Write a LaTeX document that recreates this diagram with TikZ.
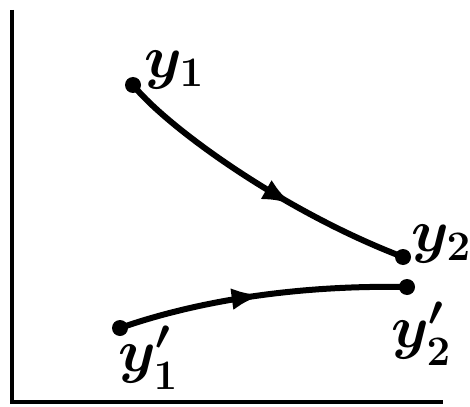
\RequirePackage{fix-cm}
\documentclass[tikz,border=0pt]{standalone}
\usepackage{amsmath}
\usepackage{tikz}
\usetikzlibrary{arrows.meta,decorations.markings}

\begin{document}
\begin{tikzpicture}[
  x=1pt, y=-1pt,
  state/.style={circle, fill, inner sep=0pt, minimum size=16pt},
  axis/.style={line width=4pt},
  traj/.style={line width=6pt, line cap=round},
  tag/.style={font=\fontsize{60}{60}\selectfont\boldmath, inner sep=0pt},
  midarrow/.style={postaction={decorate, decoration={markings,
      mark=at position #1 with {\arrow{Latex[length=30pt,width=22pt]}}}}},
]
\useasboundingbox (0,0) rectangle (470,406);

% axes
\coordinate (ytop) at (12,10);
\coordinate (origin) at (12,402);
\coordinate (xend) at (443,402);
\draw[axis] (ytop) -- (origin) -- (xend);

% end points
\node[state] (y1) at (133,85) {};
\node[state] (y2) at (403,257) {};
\node[state] (y1p) at (120,328) {};
\node[state] (y2p) at (407,287) {};

\node[tag] (y1lab) at (174,70) {$y_1$};
\node[tag] (y2lab) at (441,244) {$y_2$};
\node[tag] (y1plab) at (148,358) {$y_1'$};
\node[tag] (y2plab) at (421,334) {$y_2'$};

% trajectories
\draw[traj, midarrow=0.62] (y1.center) .. controls (165,125) and (280,210) .. (y2.center);
\draw[traj, midarrow=0.5] (y1p.center) .. controls (200,300) and (300,285) .. (y2p.center);
\end{tikzpicture}
\end{document}
